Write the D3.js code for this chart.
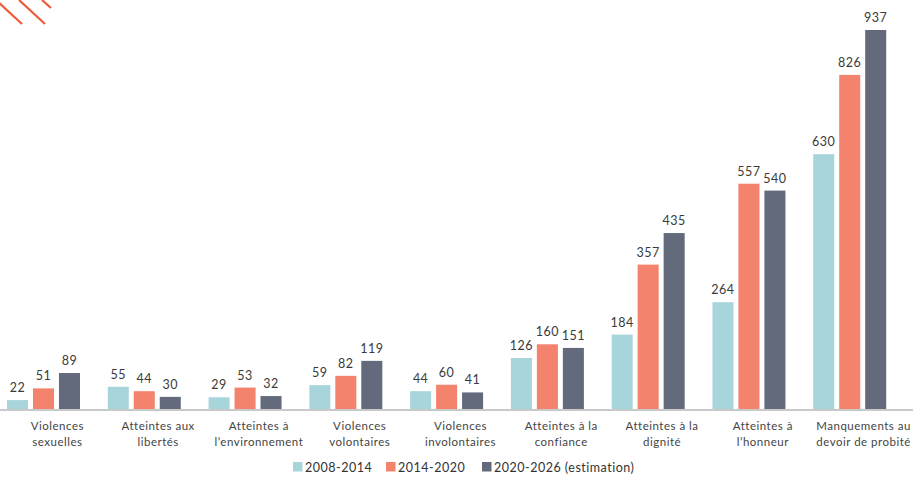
<!DOCTYPE html>
<html>
<head>
<meta charset="utf-8">
<script src="https://cdn.jsdelivr.net/npm/d3@7"></script>
<style>
  body { margin: 0; background: #fff; }
  svg { display: block; font-family: Lato, "Open Sans", sans-serif; letter-spacing: 0.5px; }
</style>
</head>
<body>
<div id="chart"></div>
<script>
// Categories (split in two lines as in the reference)
const categories = [
    ["Violences", "sexuelles"],
    ["Atteintes aux", "libertés"],
    ["Atteintes à", "l’environnement"],
    ["Violences", "volontaires"],
    ["Violences", "involontaires"],
    ["Atteintes à la", "confiance"],
    ["Atteintes à la", "dignité"],
    ["Atteintes à", "l’honneur"],
    ["Manquements au", "devoir de probité"]
];
const seriesNames = ["2008-2014", "2014-2020", "2020-2026 (estimation)"];
const values2008 = [22, 55, 29, 59, 44, 126, 184, 264, 630];
const values2014 = [51, 44, 53, 82, 60, 160, 357, 557, 826];
const values2020 = [89, 30, 32, 119, 41, 151, 435, 540, 937];
const colors = ["#a8d5db", "#f4836d", "#636a7c"];

const width = 921, height = 477;
const baseY = 409;

const svg = d3.select("#chart")
    .append("svg")
    .attr("width", width)
    .attr("height", height);

// Decorative stripes in the top-left corner
const deco = svg.append("g")
    .attr("stroke", "#f05a36")
    .attr("stroke-width", 2.2);
deco.append("line").attr("x1", -2).attr("y1", 2).attr("x2", 22).attr("y2", 24);
deco.append("line").attr("x1", 19).attr("y1", 0).attr("x2", 45).attr("y2", 24);
deco.append("line").attr("x1", 42).attr("y1", 0).attr("x2", 51).attr("y2", 8);

const catIdx = d3.range(categories.length);
const xScale = d3.scaleBand()
    .domain(catIdx)
    .range([7, 914]);

const xInner = d3.scaleBand()
    .domain(d3.range(3))
    .range([0, 73])
    .paddingInner(0.19);

const yScale = d3.scaleLinear()
    .domain([0, 937])
    .range([baseY, 30]);

const series = [values2008, values2014, values2020];

// Bars and value labels
series.forEach((vals, s) => {
    const g = svg.append("g");
    g.selectAll("rect")
        .data(vals)
        .join("rect")
        .attr("x", (d, i) => xScale(i) + xInner(s))
        .attr("y", d => yScale(d))
        .attr("width", xInner.bandwidth())
        .attr("height", d => baseY - yScale(d))
        .attr("fill", colors[s]);

    g.selectAll("text")
        .data(vals)
        .join("text")
        .attr("x", (d, i) => xScale(i) + xInner(s) + xInner.bandwidth() / 2)
        .attr("y", d => yScale(d) - 8)
        .attr("text-anchor", "middle")
        .style("font-size", "12.5px")
        .style("fill", "#3a3a3a")
        .text(d => d);
});

// Baseline axis
svg.append("line")
    .attr("x1", 0).attr("x2", 913)
    .attr("y1", baseY + 1).attr("y2", baseY + 1)
    .attr("stroke", "#c9c9c9")
    .attr("stroke-width", 2);

// Category labels
const catLabels = svg.append("g")
    .selectAll("text")
    .data(categories)
    .join("text")
    .attr("text-anchor", "middle")
    .style("font-size", "11.5px")
    .style("fill", "#444");
catLabels.each(function (d, i) {
    const t = d3.select(this);
    d.forEach((line, k) => {
        t.append("tspan")
            .attr("x", xScale(i) + xScale.bandwidth() / 2)
            .attr("y", 430 + k * 15.5)
            .text(line);
    });
});

// Legend
const legendX = [293, 386, 482];
const legend = svg.append("g")
    .selectAll("g")
    .data(seriesNames)
    .join("g")
    .attr("transform", (d, i) => `translate(${legendX[i]},462)`);
legend.append("rect")
    .attr("width", 9.5)
    .attr("height", 9.5)
    .attr("fill", (d, i) => colors[i]);
legend.append("text")
    .attr("x", 12)
    .attr("y", 9.5)
    .style("font-size", "12.5px")
    .style("fill", "#333")
    .text(d => d);
</script>
</body>
</html>
